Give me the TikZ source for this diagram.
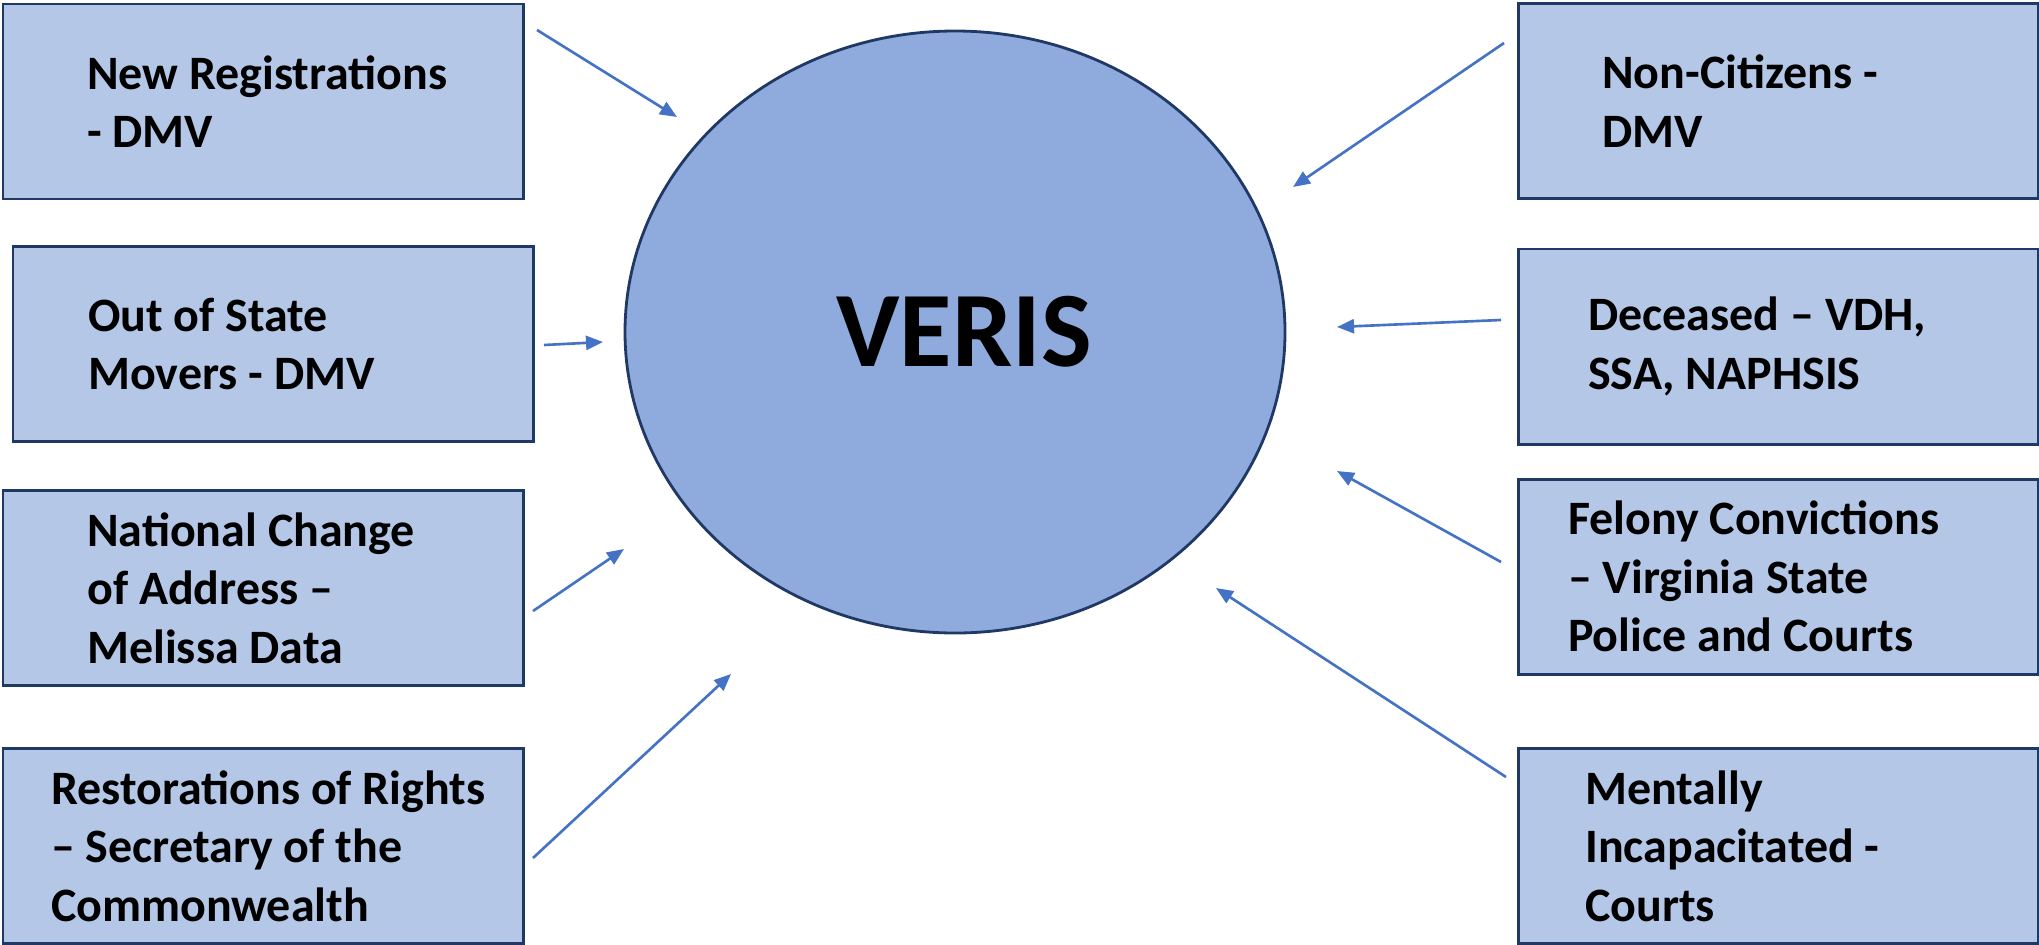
\documentclass[tikz,border=0pt]{standalone}
\usepackage{fontspec}
\setmainfont{Carlito}
\usepackage{xcolor}
\usetikzlibrary{arrows.meta,positioning,shapes.geometric}

\definecolor{boxblue}{HTML}{B4C7E7}
\definecolor{ovalblue}{HTML}{8FAADC}
\definecolor{edgenavy}{HTML}{1F3864}
\definecolor{arrowblue}{HTML}{4472C4}

\begin{document}
\begin{tikzpicture}[
    every node/.style={font=\fontsize{13.65}{16.6}\selectfont\bfseries},
    src/.style={draw=edgenavy, line width=0.85pt, fill=boxblue, minimum width=5.2cm, minimum height=1.95cm, inner sep=0pt},
    txt/.style={anchor=west, align=left, inner sep=0pt},
    hub/.style={ellipse, draw=edgenavy, line width=0.8pt, fill=ovalblue, minimum width=6.6cm, minimum height=6.02cm, inner sep=0pt, font=\fontsize{30.5}{36}\selectfont\bfseries},
    arr/.style={-{Triangle[length=1.7mm, width=1.4mm]}, line width=0.75pt, arrowblue},
]
\useasboundingbox (0,0) rectangle (20.39,-9.44);

% Centre: the register
\node[hub] (veris) at (9.55,-3.32) {\hspace*{0.18cm}VERIS};

% Left column: sources
\node[src] (newreg) at (2.63,-1.015) {};
\node[src] (movers) at (2.73,-3.44) {};
\node[src] (ncoa) at (2.63,-5.88) {};
\node[src] (restore) at (2.63,-8.46) {};

% Right column: sources
\node[src] (noncit) at (17.78,-1.01) {};
\node[src] (deceased) at (17.78,-3.465) {};
\node[src] (felony) at (17.78,-5.765) {};
\node[src] (mental) at (17.78,-8.46) {};

% Box texts (left aligned, offset from the west side)
\node[txt, right=0.85cm of newreg.west] (newreg-t) {New Registrations\\- DMV};
\node[txt, right=0.76cm of movers.west] (movers-t) {Out of State\\Movers - DMV};
\node[txt, right=0.85cm of ncoa.west] (ncoa-t) {National Change\\of Address –\\Melissa Data};
\node[txt, right=0.49cm of restore.west] (restore-t) {Restorations of Rights\\– Secretary of the\\Commonwealth};
\node[txt, right=0.85cm of noncit.west] (noncit-t) {Non-Citizens -\\DMV};
\node[txt, right=0.71cm of deceased.west] (deceased-t) {Deceased – VDH,\\SSA, NAPHSIS};
\node[txt, right=0.51cm of felony.west] (felony-t) {Felony Convictions\\– Virginia State\\Police and Courts};
\node[txt, right=0.68cm of mental.west] (mental-t) {Mentally\\Incapacitated -\\Courts};

% Arrow ends (arrows stop short of boxes and oval)
\coordinate (newreg-o) at (5.37,-0.30);   \coordinate (newreg-i) at (6.77,-1.17);
\coordinate (movers-o) at (5.44,-3.45);   \coordinate (movers-i) at (6.03,-3.42);
\coordinate (ncoa-o) at (5.33,-6.11);     \coordinate (ncoa-i) at (6.24,-5.49);
\coordinate (restore-o) at (5.33,-8.58);  \coordinate (restore-i) at (7.31,-6.74);
\coordinate (noncit-o) at (15.04,-0.43);  \coordinate (noncit-i) at (12.93,-1.87);
\coordinate (deceased-o) at (15.01,-3.20); \coordinate (deceased-i) at (13.37,-3.27);
\coordinate (felony-o) at (15.01,-5.62);  \coordinate (felony-i) at (13.37,-4.71);
\coordinate (mental-o) at (15.06,-7.77);  \coordinate (mental-i) at (12.16,-5.88);

% Data feeds into VERIS
\draw[arr] (newreg-o) -- (newreg-i);
\draw[arr] (movers-o) -- (movers-i);
\draw[arr] (ncoa-o) -- (ncoa-i);
\draw[arr] (restore-o) -- (restore-i);
\draw[arr] (noncit-o) -- (noncit-i);
\draw[arr] (deceased-o) -- (deceased-i);
\draw[arr] (felony-o) -- (felony-i);
\draw[arr] (mental-o) -- (mental-i);

\end{tikzpicture}
\end{document}
